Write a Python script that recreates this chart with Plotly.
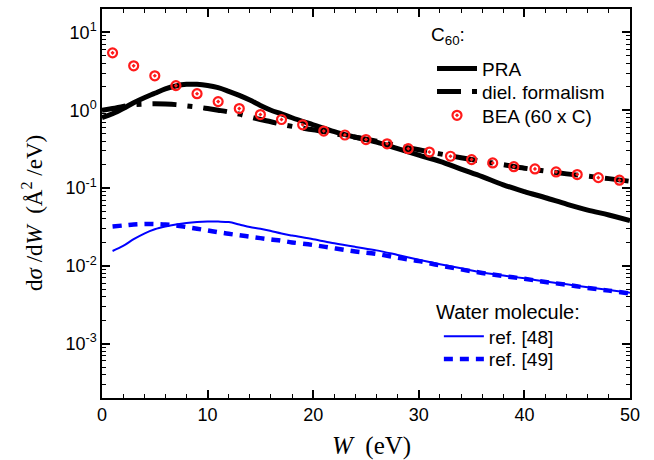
import plotly.graph_objects as go
import numpy as np

# ---- data ----
W_pra = [0, 1, 2, 3, 4, 5, 6, 7, 8, 9, 10, 11, 12, 13, 14, 15, 16, 17, 18, 20, 22, 24, 26, 28, 30,
         32, 34, 36, 38, 40, 42, 44, 46, 48, 50]
pra = [0.80, 0.90, 1.05, 1.25, 1.45, 1.65, 1.88, 2.05, 2.15, 2.15, 2.08, 1.95, 1.75, 1.55, 1.35,
       1.15, 1.0, 0.9, 0.8, 0.65, 0.53, 0.45, 0.39, 0.32, 0.265, 0.22, 0.175, 0.14, 0.11, 0.09,
       0.075, 0.062, 0.052, 0.045, 0.038]

W_diel = [0, 1, 2, 3, 4, 5, 6, 7, 8, 9, 10, 11, 12, 13, 14, 15, 16, 17, 18, 20, 22, 24, 26, 28, 30,
          32, 34, 36, 38, 40, 42, 44, 46, 48, 50]
diel = [1.0, 1.05, 1.12, 1.18, 1.2, 1.21, 1.2, 1.18, 1.14, 1.1, 1.05, 1.0, 0.95, 0.89, 0.82, 0.76,
        0.71, 0.66, 0.62, 0.56, 0.5, 0.45, 0.4, 0.35, 0.31, 0.275, 0.245, 0.22, 0.2, 0.18, 0.165,
        0.152, 0.142, 0.132, 0.122]

W_bea = [1, 3, 5, 7, 9, 11, 13, 15, 17, 19, 21, 23, 25, 27, 29, 31, 33, 35, 37, 39, 41, 43, 45, 47, 49]
bea = [5.46, 3.72, 2.77, 2.07, 1.63, 1.29, 1.05, 0.88, 0.76, 0.65, 0.54, 0.48, 0.42, 0.37, 0.32,
       0.29, 0.256, 0.232, 0.21, 0.188, 0.176, 0.161, 0.149, 0.136, 0.126]

W_w48 = [1, 2, 3, 4, 5, 6, 7, 8, 9, 10, 11, 12, 13, 14, 15, 16, 17, 18, 20, 22, 24, 26, 28, 30, 32,
         34, 36, 38, 40, 42, 44, 46, 48, 50]
w48 = [0.0155, 0.018, 0.022, 0.026, 0.0295, 0.032, 0.034, 0.0355, 0.0365, 0.037, 0.037, 0.0365,
       0.034, 0.0315, 0.030, 0.028, 0.026, 0.0245, 0.022, 0.0195, 0.0175, 0.0158, 0.0138, 0.012,
       0.0105, 0.0093, 0.0082, 0.0075, 0.0069, 0.0063, 0.0058, 0.0053, 0.0049, 0.0045]

W_w49 = [1, 2, 3, 4, 5, 6, 7, 8, 9, 10, 11, 12, 13, 14, 15, 16, 17, 18, 20, 22, 24, 26, 28, 30, 32,
         34, 36, 38, 40, 42, 44, 46, 48, 50]
w49 = [0.032, 0.033, 0.034, 0.0345, 0.0345, 0.034, 0.033, 0.0315, 0.030, 0.0285, 0.027, 0.0258,
       0.0247, 0.0237, 0.0227, 0.0218, 0.021, 0.020, 0.0185, 0.0168, 0.0153, 0.0142, 0.0127,
       0.0115, 0.0101, 0.009, 0.0081, 0.0074, 0.0068, 0.0062, 0.0057, 0.0052, 0.0048, 0.0044]

y_tickvals = [1e-3, 1e-2, 1e-1, 1e0, 1e1]
y_ticktext = ["10<sup>-3</sup>", "10<sup>-2</sup>", "10<sup>-1</sup>", "10<sup>0</sup>", "10<sup>1</sup>"]
x_tickvals = [0, 10, 20, 30, 40, 50]

# ---- figure ----
fig = go.Figure()
fig.add_trace(go.Scatter(x=W_pra, y=pra, mode="lines", name="PRA", legend="legend",
                         showlegend=True,
                         line=dict(color="black", width=5), line_shape="spline"))
fig.add_trace(go.Scatter(x=W_diel, y=diel, mode="lines", name="diel. formalism", legend="legend2",
                         showlegend=True,
                         line=dict(color="black", width=5, dash="24px,11px,5px,11px"),
                         line_shape="spline"))
fig.add_trace(go.Scatter(x=W_bea, y=bea, mode="markers", name="BEA (60 x C)", legend="legend3",
                         showlegend=True,
                         marker=dict(symbol="circle-open-dot", size=9, color="#ff1a1a",
                                     line=dict(width=2.2, color="#ff1a1a"))))
fig.add_trace(go.Scatter(x=W_w48, y=w48, mode="lines", name="ref. [48]", legend="legend4",
                         showlegend=True,
                         line=dict(color="#0000ff", width=2), line_shape="spline"))
fig.add_trace(go.Scatter(x=W_w49, y=w49, mode="lines", name="ref. [49]", legend="legend5",
                         showlegend=True,
                         line=dict(color="#0000ff", width=4.5, dash="9px,7px"),
                         line_shape="spline"))

minor_y = [m * 10.0 ** e for e in range(-4, 2) for m in range(2, 10)]
minor_y = [v for v in minor_y if 2e-4 < v < 20]

axis_font = dict(family="Liberation Sans, Arial", size=18, color="black")
serif = "Liberation Serif, Times New Roman"

fig.update_xaxes(range=[0, 50], tickvals=x_tickvals, ticks="inside", ticklen=8, tickwidth=1.5,
                 tickcolor="black", showline=True, linecolor="black", linewidth=1.5, mirror="ticks",
                 showgrid=False, zeroline=False, tickfont=axis_font,
                 minor=dict(tickmode="array", tickvals=[v for v in range(0, 51, 2)],
                            ticks="inside", ticklen=4, tickwidth=1.2, tickcolor="black",
                            showgrid=False))
fig.update_yaxes(type="log", range=[np.log10(2e-4), np.log10(20)], tickvals=y_tickvals,
                 ticktext=y_ticktext, ticks="inside", ticklen=8, tickwidth=1.5, tickcolor="black",
                 showline=True, linecolor="black", linewidth=1.5, mirror="ticks", showgrid=False,
                 zeroline=False, tickfont=axis_font,
                 minor=dict(tickmode="array", tickvals=minor_y, ticks="inside", ticklen=4,
                            tickwidth=1.2, tickcolor="black", showgrid=False))

legend_font = dict(family="Liberation Sans, Arial", size=19, color="black")


def leg(x, y):
    return dict(x=x, y=y, xanchor="left", yanchor="middle", bgcolor="rgba(0,0,0,0)",
                font=legend_font, itemwidth=40, tracegroupgap=0, visible=True)


fig.update_layout(
    width=654, height=460,
    showlegend=True,
    margin=dict(l=102, r=24, t=7, b=62),
    paper_bgcolor="white", plot_bgcolor="white",
    legend=leg(0.625, 0.8465),
    legend2=leg(0.625, 0.7877),
    legend3=leg(0.625, 0.7263),
    legend4=leg(0.638, 0.1586),
    legend5=leg(0.638, 0.0997),
    annotations=[
        dict(text="C<sub>60</sub>:", xref="paper", yref="paper", x=0.619, y=0.931,
             xanchor="left", yanchor="middle", showarrow=False, font=legend_font),
        dict(text="Water molecule:", xref="paper", yref="paper", x=0.629, y=0.22,
             xanchor="left", yanchor="middle", showarrow=False,
             font=dict(family="Liberation Sans, Arial", size=20, color="black")),
        dict(text="d<i>σ</i> /d<i>W</i>  (Å<sup>2</sup> /eV)", xref="paper", yref="paper",
             x=-0.1307, y=0.4757, xanchor="center", yanchor="middle", textangle=-90,
             showarrow=False, font=dict(family=serif, size=23, color="black")),
        dict(text="<i>W</i>  (eV)", xref="paper", yref="paper", x=0.511, y=-0.124,
             xanchor="center", yanchor="middle", showarrow=False,
             font=dict(family=serif, size=25, color="black")),
    ],
)

fig.write_html("out.html", config={"displayModeBar": False},
               post_script="document.body.style.margin='0px';")
